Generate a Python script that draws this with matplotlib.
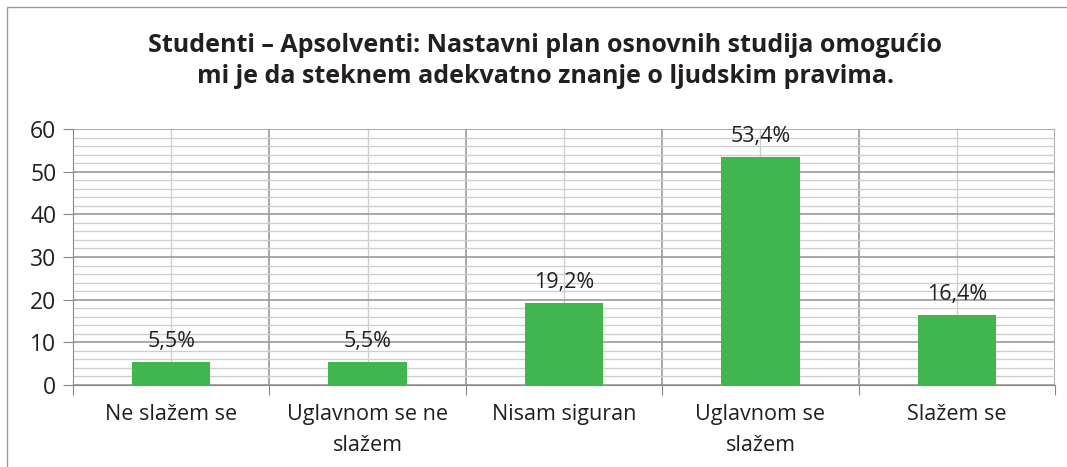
import numpy as np
import matplotlib
matplotlib.use('Agg')
import matplotlib.pyplot as plt
from matplotlib.patches import Rectangle

plt.rcParams['font.family'] = ['Open Sans', 'DejaVu Sans']

# data
categories = ['Ne slažem se', 'Uglavnom se ne\nslažem', 'Nisam siguran',
              'Uglavnom se\nslažem', 'Slažem se']
values = [5.5, 5.5, 19.2, 53.4, 16.4]
labels = ['5,5%', '5,5%', '19,2%', '53,4%', '16,4%']
title = ('Studenti \u2013 Apsolventi: Nastavni plan osnovnih studija omogućio\n'
         'mi je da steknem adekvatno znanje o ljudskim pravima.')

fig = plt.figure(figsize=(10.67, 4.67), dpi=100)
ax = fig.add_axes([0.0684, 0.1756, 0.9204, 0.5482])

x = np.arange(len(categories))
ax.bar(x, values, width=0.4, color='#41b64e', zorder=3)

for xi, v, lab in zip(x, values, labels):
    ax.annotate(lab, (xi, v), xytext=(0, 7), textcoords='offset points',
                ha='center', va='bottom', fontsize=15.5, color='#231f20')

ax.set_xlim(-0.5, len(categories) - 0.5)
ax.set_ylim(0, 60)

# y grid: major every 10, minor every 2
ax.set_yticks(np.arange(0, 61, 10))
ax.set_yticks(np.arange(0, 61, 2), minor=True)
# x grid: boundaries (major) and centres (minor)
ax.set_xticks(np.arange(-0.5, len(categories)), minor=False)
ax.set_xticklabels([''] * 6)
ax.set_xticks(x, categories, minor=True)

ax.grid(which='major', color='#9a9a9a', linewidth=1.2, zorder=0)
ax.grid(which='minor', color='#cfcfcf', linewidth=1.0, zorder=0)

ax.tick_params(axis='y', which='major', length=7, color='#888888',
               labelsize=16.5, labelcolor='#231f20', pad=5)
ax.tick_params(axis='y', which='minor', length=0)
ax.tick_params(axis='x', which='major', length=7, color='#888888')
ax.tick_params(axis='x', which='minor', length=0, labelsize=15.5,
               labelcolor='#231f20', pad=14)
for t in ax.get_xticklabels(minor=True):
    t.set_linespacing(1.6)

for s in ['top', 'right']:
    ax.spines[s].set_visible(False)
ax.spines['left'].set_color('#888888')
ax.spines['bottom'].set_color('#888888')

fig.text(0.511, 0.869, title, ha='center', va='center', fontsize=18,
         fontweight='bold', color='#231f20', linespacing=1.3)

# outer chart frame
fig.patches.append(Rectangle((7 / 1067, -0.05), 1.1, 1.05 - 7 / 467,
                             transform=fig.transFigure, fill=False,
                             edgecolor='#9a9a9a', linewidth=1.0))

fig.savefig('out.png', dpi=100, facecolor='white')
